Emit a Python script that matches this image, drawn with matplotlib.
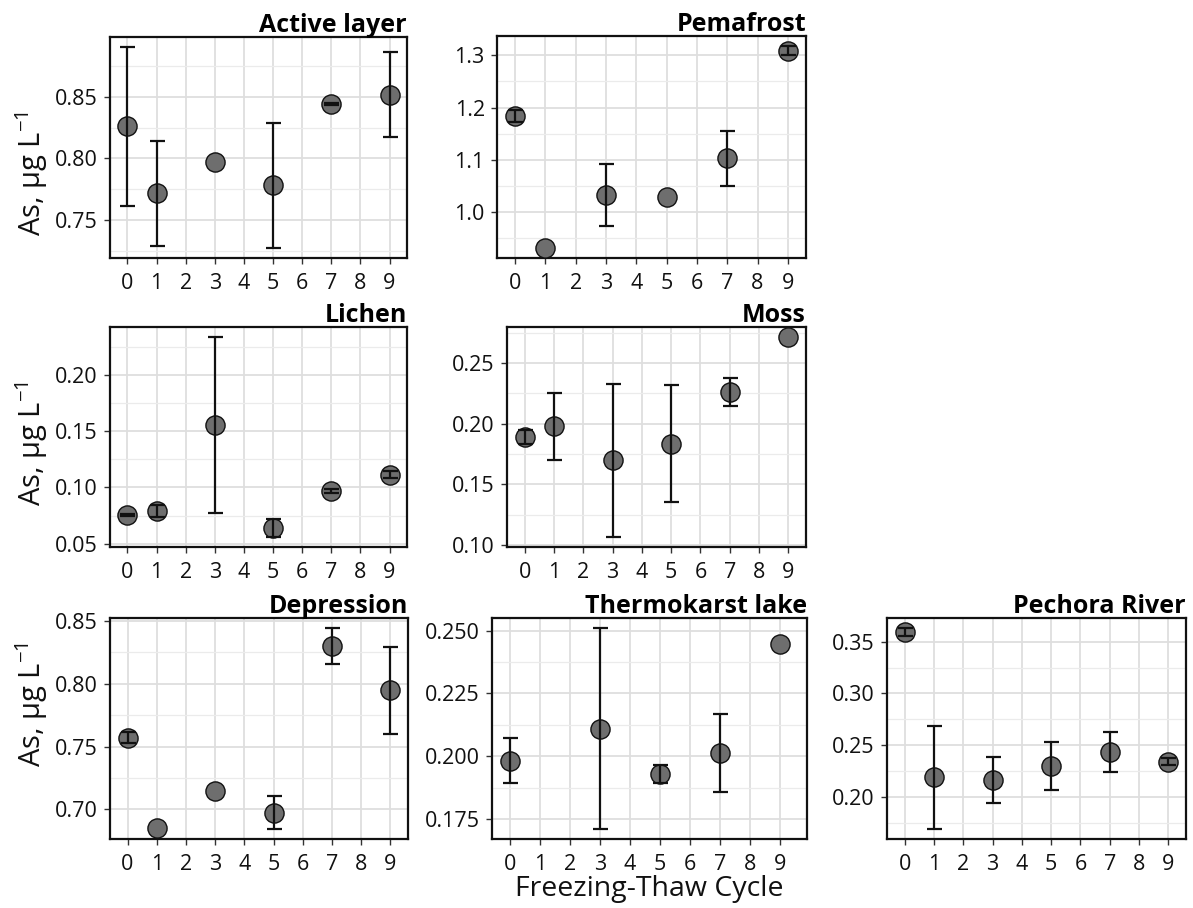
import numpy as np
import matplotlib
matplotlib.use("Agg")
import matplotlib.pyplot as plt
from matplotlib.ticker import MultipleLocator, FixedLocator

plt.rcParams['font.family'] = ['Open Sans', 'DejaVu Sans']
plt.rcParams['mathtext.fontset'] = 'custom'
plt.rcParams['mathtext.rm'] = 'Open Sans'
plt.rcParams['mathtext.it'] = 'Open Sans:italic'
plt.rcParams['mathtext.bf'] = 'Open Sans:bold'

nan = np.nan
cycles = [0, 1, 3, 5, 7, 9]
x_ticks = list(range(10))

active_mean = [0.826, 0.7716, 0.797, 0.7781, 0.8443, 0.8518]
active_sd = [0.0645, 0.0427, nan, 0.0508, 0.0006, 0.0345]

pemafrost_mean = [1.184, 0.932, 1.0325, 1.029, 1.103, 1.309]
pemafrost_sd = [0.011, nan, 0.0595, nan, 0.052, 0.0085]

lichen_mean = [0.0757, 0.0792, 0.1555, 0.064, 0.097, 0.1112]
lichen_sd = [0.0007, 0.0055, 0.0784, 0.0081, 0.0015, 0.003]

moss_mean = [0.189, 0.1978, 0.1697, 0.1834, 0.2258, 0.2715]
moss_sd = [0.0057, 0.0277, 0.0632, 0.0483, 0.0116, nan]

depression_mean = [0.7571, 0.6855, 0.7143, 0.6975, 0.8300, 0.7947]
depression_sd = [0.0045, nan, nan, 0.013, 0.0143, 0.0346]

thermokarst_mean = [0.1982, nan, 0.211, 0.1927, 0.2011, 0.2447]
thermokarst_sd = [0.0089, nan, 0.040, 0.0036, 0.0155, nan]

pechora_mean = [0.359, 0.2193, 0.2163, 0.2302, 0.2433, 0.2341]
pechora_sd = [0.004, 0.0497, 0.0221, 0.0228, 0.0193, 0.0034]

titles = ["Active layer", "Pemafrost", "Lichen", "Moss", "Depression",
          "Thermokarst lake", "Pechora River"]
y_label = "As, µg L$^{-1}$"
x_label = "Freezing-Thaw Cycle"

W, H = 1193, 908
fig = plt.figure(figsize=(W / 100, H / 100), dpi=100)


def rect(l, t, r, b):
    return [l / W, 1 - b / H, (r - l) / W, (b - t) / H]


panels = [
    # mean, sd, title, rect, ymajor, yminor, fmt, ylabel_y_px, xlim_right
    (active_mean, active_sd, titles[0], (110, 37, 407, 258), 0.05, 0.025, "{:.2f}", 173, 9.6),
    (pemafrost_mean, pemafrost_sd, titles[1], (497, 36, 806, 258), 0.1, 0.05, "{:.1f}", None, 9.6),
    (lichen_mean, lichen_sd, titles[2], (110, 327, 407, 547), 0.05, 0.025, "{:.2f}", 443, 9.6),
    (moss_mean, moss_sd, titles[3], (507, 327, 806, 547), 0.05, 0.025, "{:.2f}", None, 9.6),
    (depression_mean, depression_sd, titles[4], (110, 618, 408, 839), 0.05, 0.025, "{:.2f}", 704, 9.6),
    (thermokarst_mean, thermokarst_sd, titles[5], (492, 618, 807, 839), 0.025, 0.0125, "{:.3f}", None, 9.9),
    (pechora_mean, pechora_sd, titles[6], (887, 618, 1186, 839), 0.05, 0.025, "{:.2f}", None, 9.6),
]

for i, (mean, sd, title, r, ymaj, ymin_, fmt, ylab_y, xr) in enumerate(panels):
    ax = fig.add_axes(rect(*r))
    m = np.array(mean, dtype=float)
    s = np.array(sd, dtype=float)
    lo = np.nanmin(np.where(np.isnan(s), m, m - s))
    hi = np.nanmax(np.where(np.isnan(s), m, m + s))
    ext = (hi - lo) * 0.05
    ax.set_ylim(lo - ext, hi + ext)
    ax.set_xlim(-0.6, xr)

    ax.plot(cycles, m, linestyle='none', marker='o', markersize=13.8,
            markerfacecolor='#6e6e6e', markeredgecolor='#111111',
            markeredgewidth=1.0, zorder=3, clip_on=False)
    ax.errorbar(cycles, m, yerr=s, fmt='none', ecolor='#111111',
                elinewidth=1.6, capsize=5.4, capthick=1.6, zorder=4)

    ax.xaxis.set_major_locator(FixedLocator(x_ticks))
    ax.yaxis.set_major_locator(MultipleLocator(ymaj))
    ax.yaxis.set_minor_locator(MultipleLocator(ymin_))
    ax.yaxis.set_major_formatter(matplotlib.ticker.FuncFormatter(lambda v, p, f=fmt: f.format(v)))

    ax.grid(True, which='major', color='#dedede', linewidth=1.3, zorder=0)
    ax.grid(True, which='minor', axis='y', color='#ebebeb', linewidth=0.9, zorder=0)
    ax.set_axisbelow(True)

    ax.tick_params(axis='both', which='major', labelsize=15.5, length=4.3,
                   width=1.0, color='#333333', labelcolor='#111111', direction='out')
    ax.tick_params(axis='x', pad=6.5)
    ax.tick_params(axis='y', pad=4.5)
    ax.tick_params(axis='y', which='minor', length=0)
    for sp in ax.spines.values():
        sp.set_linewidth(1.6)
        sp.set_color('#111111')

    ax.annotate(title, xy=(1, 1), xycoords='axes fraction', xytext=(0, 3.6),
                textcoords='offset points', ha='right', va='baseline',
                fontsize=18, fontweight='bold', color='#000000')

    if ylab_y is not None:
        ax.set_ylabel(y_label, fontsize=21, color='#111111')
        ax.yaxis.label.set_rotation_mode('default')
        ax.yaxis.label.set_verticalalignment('center')
        ax.yaxis.label.set_horizontalalignment('center')
        l, t, rr, b = r
        ax.yaxis.set_label_coords((31.5 - l) / (rr - l), (b - ylab_y) / (b - t))

    if title == "Thermokarst lake":
        ax.set_xlabel(x_label, fontsize=20.5, color='#111111', labelpad=0)

fig.savefig("out.png", dpi=100)
